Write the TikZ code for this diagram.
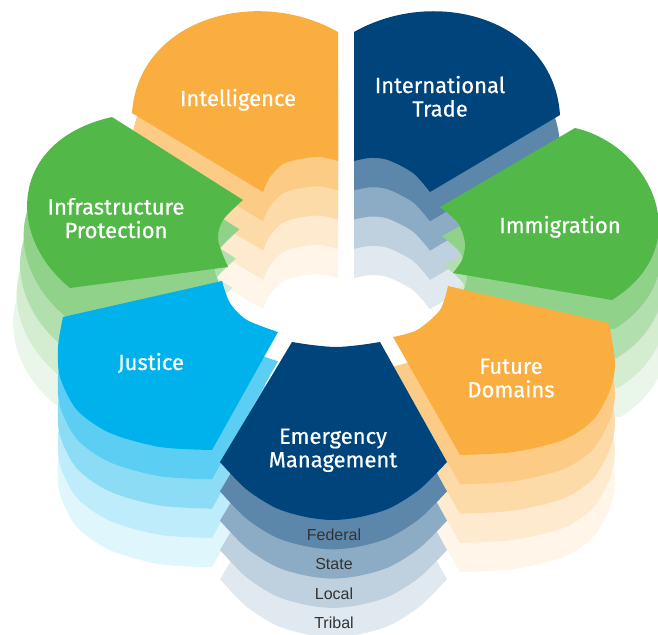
\documentclass[tikz,border=0pt]{standalone}
\usepackage{fontspec}
\setmainfont{Fira Sans}
\newfontfamily\petalfont{Fira Sans}[FakeBold=0.5]
\newfontfamily\tierfont{Liberation Sans}

\definecolor{cOrange}{HTML}{FBAE40}
\definecolor{cNavy}{HTML}{00447C}
\definecolor{cGreen}{HTML}{52B848}
\definecolor{cCyan}{HTML}{00B2EC}
\definecolor{cTier}{HTML}{333333}

% One petal of the flower; the argument carries fill colour and shift
\newcommand\petalIntel[1]{\fill[#1] (338,32) -- (338,161)
  -- plot[smooth] coordinates {(338,161) (320,157) (300,159) (283,164) (270,177) (263,192)}
  -- (132,113) .. controls (138,20) and (255,-15) .. (338,32) -- cycle;}
\newcommand\petalTrade[1]{\fill[#1] (354,32) -- (354,161)
  -- plot[smooth] coordinates {(354,161) (370,158) (388,160) (413,173) (430,192)}
  -- (560,115) .. controls (554,20) and (437,-15) .. (354,32) -- cycle;}
\newcommand\petalImmig[1]{\fill[#1] (575,128) -- (440,207)
  -- plot[smooth] coordinates {(440,207) (458,223) (465,243) (462,260) (453,273)}
  -- (612,300) .. controls (700,245) and (650,145) .. (575,128) -- cycle;}
\newcommand\petalFuture[1]{\fill[#1] (448,286) -- (609,323)
  -- plot[smooth] coordinates {(609,323) (615,363) (610,390) (593,420) (563,440) (513,452) (460,455)}
  -- (393,337)
  -- plot[smooth] coordinates {(393,337) (417,330) (440,310) (448,286)} -- cycle;}
\newcommand\petalEmerg[1]{\fill[#1] (292,342)
  -- plot[smooth] coordinates {(292,342) (312,345) (336,347) (360,345) (380,342)}
  -- (447,462)
  -- plot[smooth] coordinates {(447,462) (420,489) (390,508) (360,517) (333,520) (306,517) (276,508) (246,489) (220,462)} -- cycle;}
\newcommand\petalJustice[1]{\fill[#1] (63,317) -- (222,281)
  -- plot[smooth] coordinates {(222,281) (230,303) (247,320) (278,332)}
  -- (212,450)
  -- plot[smooth] coordinates {(212,450) (160,447) (110,433) (77,410) (60,377) (58,347) (63,317)} -- cycle;}
\newcommand\petalInfra[1]{\fill[#1] (112,117) -- (243,200)
  -- plot[smooth] coordinates {(243,200) (223,220) (218,240) (228,267)}
  -- (70,288) .. controls (5,235) and (10,140) .. (112,117) -- cycle;}

\tikzset{
  petal label/.style={text=white, anchor=base, align=center, inner sep=0pt,
    font=\petalfont\fontsize{22}{23.5}\selectfont},
  tier label/.style={text=cTier, anchor=base, inner sep=0pt,
    font=\tierfont\fontsize{16}{18}\selectfont},
}

\begin{document}
\begin{tikzpicture}[x=1pt, y=-1pt]
\useasboundingbox (0,0) rectangle (658,634);

% lower tiers, lightest first
\foreach \k/\t in {4/12, 3/25, 2/45, 1/64}{
  \petalInfra{fill=cGreen!\t!white, xshift={-3.5pt*\k}, yshift={-29.3pt*\k}}
  \petalIntel{fill=cOrange!\t!white, yshift={-29.3pt*\k}}
  \petalTrade{fill=cNavy!\t!white, yshift={-29.3pt*\k}}
  \petalImmig{fill=cGreen!\t!white, xshift={2pt*\k}, yshift={-29.3pt*\k}}
  \petalFuture{fill=cOrange!\t!white, yshift={-29.3pt*\k}}
  \petalEmerg{fill=cNavy!\t!white, yshift={-29.3pt*\k}}
  \petalJustice{fill=cCyan!\t!white, yshift={-29.3pt*\k}}
}

% top tier
\petalInfra{fill=cGreen}
\petalIntel{fill=cOrange}
\petalTrade{fill=cNavy}
\petalImmig{fill=cGreen}
\petalFuture{fill=cOrange}
\petalEmerg{fill=cNavy}
\petalJustice{fill=cCyan}

% petal names (two-line names sit on the baseline of their last line)
\node[petal label] (intel)   at (238,106) {Intelligence};
\node[petal label] (trade)   at (440,116.5) {International\\Trade};
\node[petal label] (immig)   at (560,233) {Immigration};
\node[petal label] (infra)   at (116,238) {Infrastructure\\Protection};
\node[petal label] (justice) at (151,370) {Justice};
\node[petal label] (future)  at (511,397.3) {Future\\Domains};
\node[petal label] (emerg)   at (333,467.3) {Emergency\\Management};

% tier names under the centre petal
\node[tier label] (federal) at (334,540) {Federal};
\node[tier label] (state)   at (334,569) {State};
\node[tier label] (local)   at (334,599) {Local};
\node[tier label] (tribal)  at (334,628) {Tribal};
\end{tikzpicture}
\end{document}
